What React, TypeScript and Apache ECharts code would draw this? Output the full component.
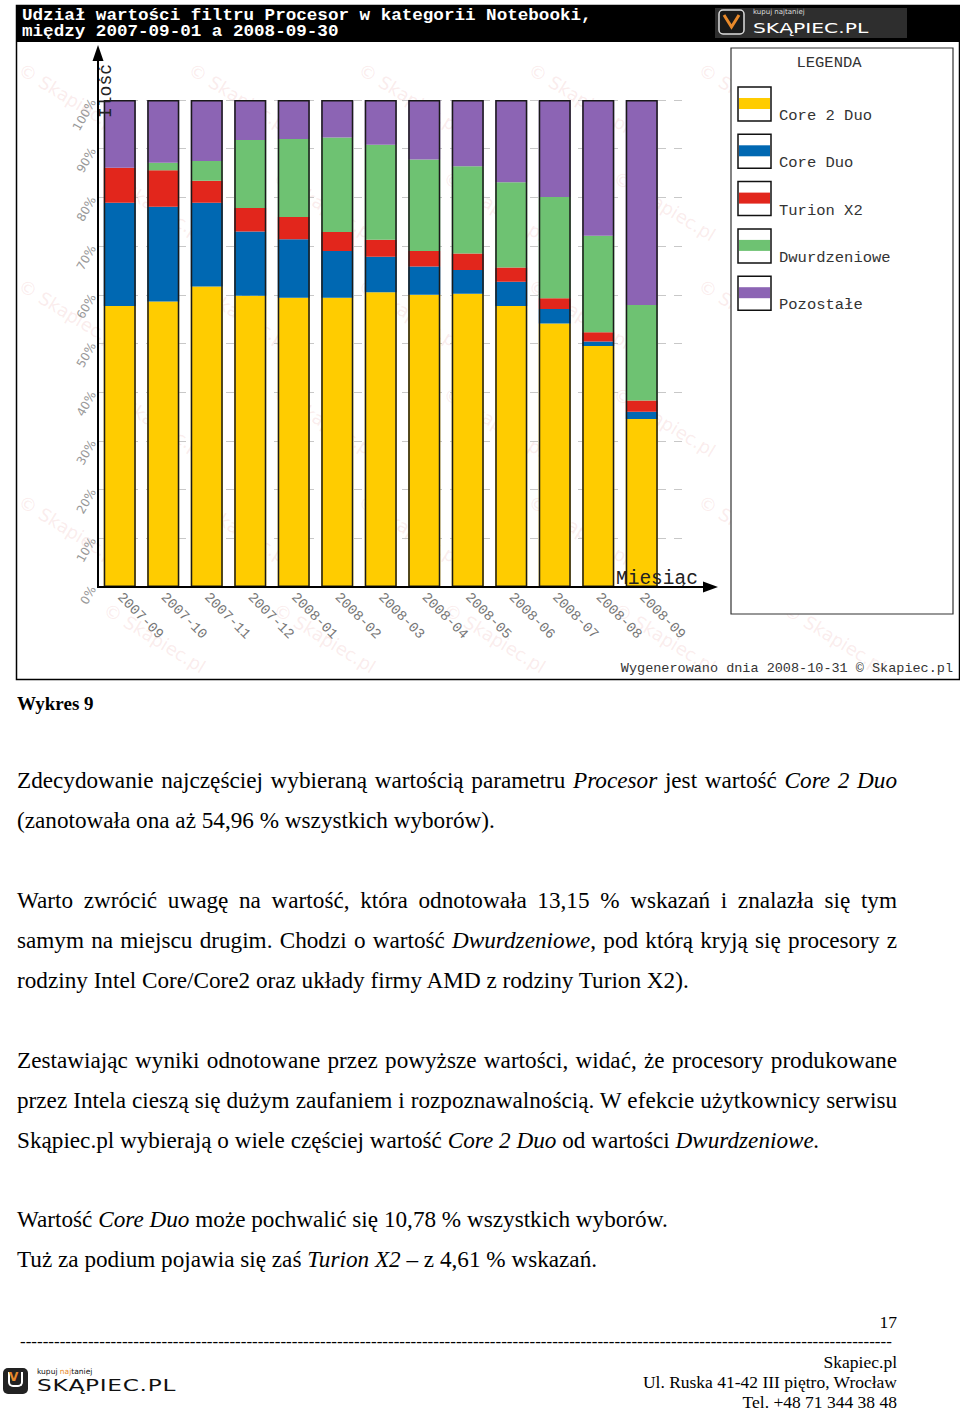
import React, { useEffect, useRef } from "react";
import * as echarts from "echarts";

// ---------- DATA ----------
const MONTHS = [
  "2007-09", "2007-10", "2007-11", "2007-12", "2008-01", "2008-02", "2008-03",
  "2008-04", "2008-05", "2008-06", "2008-07", "2008-08", "2008-09",
];
const SERIES_NAMES = ["Core 2 Duo", "Core Duo", "Turion X2", "Dwurdzeniowe", "Pozostałe"];
const SERIES_COLORS = ["#FFCC00", "#0068B2", "#E2261C", "#6EC272", "#8C64B4"];
const CORE_2_DUO = [57.7, 58.6, 61.7, 59.8, 59.4, 59.4, 60.5, 60.0, 60.2, 57.7, 54.1, 49.5, 34.5];
const CORE_DUO = [21.2, 19.5, 17.2, 13.2, 12.0, 9.6, 7.3, 5.8, 4.9, 5.0, 3.0, 0.9, 1.5];
const TURION_X2 = [7.2, 7.5, 4.5, 4.8, 4.6, 3.9, 3.5, 3.2, 3.4, 2.9, 2.2, 1.9, 2.3];
const DWURDZENIOWE = [0, 1.5, 4.1, 14.0, 16.0, 19.4, 19.5, 18.8, 17.9, 17.5, 20.8, 19.8, 19.6];
const POZOSTALE = [13.9, 12.9, 12.5, 8.2, 8.0, 7.7, 9.2, 12.2, 13.6, 16.9, 19.9, 27.9, 42.1];
const SERIES_VALUES = [CORE_2_DUO, CORE_DUO, TURION_X2, DWURDZENIOWE, POZOSTALE];
const Y_MIN = 0;
const Y_MAX = 100;
const Y_STEP = 10;

const TITLE_LINES = [
  "Udział wartości filtru Procesor w kategorii Notebooki,",
  "między 2007-09-01 a 2008-09-30",
];
const X_AXIS_NAME = "Miesiąc";
const Y_AXIS_NAME = "Ilość";
const LEGEND_TITLE = "LEGENDA";
const FOOTNOTE = "Wygenerowano dnia 2008-10-31 © Skapiec.pl";

const MONO = "'Liberation Mono', 'DejaVu Sans Mono', monospace";
const SERIF = "'Liberation Serif', 'Times New Roman', serif";

function txt(x: number, y: number, text: string, o: any = {}) {
  const { align = "left", vAlign = "middle", fill = "#333", font = MONO, size = 14, weight = "normal", lineHeight, ...rest } = o;
  const style: any = {
    text,
    fill,
    fontFamily: font,
    fontSize: size,
    fontWeight: weight,
    align,
    verticalAlign: vAlign,
    textAlign: align,
    textVerticalAlign: vAlign,
  };
  if (lineHeight) style.lineHeight = lineHeight;
  return { type: "text", x, y, silent: true, z: 10, ...rest, style };
}

function Chart() {
  const ref = useRef<HTMLDivElement>(null);
  useEffect(() => {
    if (!ref.current) return;
    const chart = echarts.init(ref.current, undefined, { renderer: "svg" });
    const totals = MONTHS.map((_, i) => SERIES_VALUES.reduce((s, arr) => s + arr[i], 0));

    const graphic: any[] = [];
    // faint watermarks (decoration)
    for (let r = 0; r < 6; r++) {
      for (let c = 0; c < 5; c++) {
        graphic.push({
          type: "text",
          x: 25 + c * 170 + (r % 2) * 85,
          y: 60 + r * 108,
          rotation: -0.55,
          silent: true,
          z: 0,
          style: {
            text: "© Skapiec.pl",
            fill: "rgba(225,140,140,0.17)",
            fontFamily: "'DejaVu Sans'",
            fontSize: 18,
          },
        });
      }
    }
    // header bar
    graphic.push({ type: "rect", shape: { x: 16, y: 5, width: 944, height: 37 }, style: { fill: "#000" }, z: 9, silent: true });
    TITLE_LINES.forEach((line, i) => {
      graphic.push({
        ...txt(22, 15.5 + i * 16, line, { fill: "#fff", size: 16, weight: "bold", lineHeight: 16 }),
        scaleX: 1.1,
        originX: 0,
        originY: 0,
      });
    });
    // header logo
    graphic.push({ type: "rect", shape: { x: 715, y: 8, width: 192, height: 30 }, style: { fill: "#2e2e2e" }, z: 10, silent: true });
    graphic.push({ type: "rect", shape: { x: 719, y: 10, width: 25, height: 24, r: 4 }, style: { fill: "#1a1a1a", stroke: "#ddd", lineWidth: 1.5 }, z: 11, silent: true });
    graphic.push({ type: "polyline", shape: { points: [[724, 15], [731.5, 27], [739, 15]] }, style: { stroke: "#E8892A", lineWidth: 3, fill: "none" }, z: 12, silent: true });
    graphic.push(txt(753, 12, "kupuj najtaniej", { fill: "#ddd", size: 7, font: "'DejaVu Sans'" }));
    graphic.push({
      ...txt(753, 28, "SKĄPIEC.PL", { fill: "#fff", size: 14, font: "'DejaVu Sans'" }),
      scaleX: 1.45,
      originX: 0,
      originY: 0,
      z: 12,
    });
    // outer frame
    graphic.push({ type: "rect", shape: { x: 16.5, y: 5.5, width: 943, height: 674 }, style: { fill: "none", stroke: "#000", lineWidth: 1.5 }, z: 12, silent: true });
    // axes lines with arrows
    graphic.push({ type: "line", shape: { x1: 98, y1: 587, x2: 98, y2: 56 }, style: { stroke: "#000", lineWidth: 2 }, z: 12, silent: true });
    graphic.push({ type: "polygon", shape: { points: [[92.5, 61], [103.5, 61], [98, 45]] }, style: { fill: "#000" }, z: 12, silent: true });
    graphic.push({ type: "line", shape: { x1: 97, y1: 587, x2: 707, y2: 587 }, style: { stroke: "#000", lineWidth: 2 }, z: 12, silent: true });
    graphic.push({ type: "polygon", shape: { points: [[703, 581.5], [703, 592.5], [718, 587]] }, style: { fill: "#000" }, z: 12, silent: true });
    graphic.push(txt(616, 579, X_AXIS_NAME, { size: 19.5, fill: "#222" }));
    graphic.push({ ...txt(106, 118, Y_AXIS_NAME, { size: 18, fill: "#222" }), rotation: Math.PI / 2 });
    // legend
    graphic.push({ type: "rect", shape: { x: 731, y: 48, width: 222, height: 566 }, style: { fill: "#fff", stroke: "#333", lineWidth: 1.2 }, z: 9, silent: true });
    graphic.push(txt(829, 63, LEGEND_TITLE, { align: "center", size: 15.5, fill: "#333" }));
    SERIES_NAMES.forEach((name, i) => {
      const y0 = 87 + i * 47.3;
      graphic.push({ type: "rect", shape: { x: 738, y: y0, width: 33, height: 34 }, style: { fill: "#fff", stroke: "#111", lineWidth: 1.5 }, z: 10, silent: true });
      graphic.push({ type: "rect", shape: { x: 739, y: y0 + 11, width: 31, height: 11 }, style: { fill: SERIES_COLORS[i] }, z: 11, silent: true });
      graphic.push(txt(779, y0 + 29, name, { size: 15.5, fill: "#333" }));
    });
    // footnote
    graphic.push(txt(953, 668, FOOTNOTE, { align: "right", size: 13.5, fill: "#333" }));

    const barSeries: any[] = SERIES_NAMES.map((name, i) => ({
      name,
      type: "bar",
      stack: "total",
      xAxisIndex: 0,
      yAxisIndex: 0,
      barWidth: 32,
      barGap: "-100%",
      data: SERIES_VALUES[i],
      itemStyle: { color: SERIES_COLORS[i] },
      z: 3,
    }));
    barSeries.push({
      name: "outline",
      type: "bar",
      xAxisIndex: 0,
      yAxisIndex: 0,
      barWidth: 32,
      barGap: "-100%",
      data: totals,
      itemStyle: { color: "rgba(0,0,0,0)", borderColor: "#1a1a1a", borderWidth: 1.5 },
      z: 4,
      silent: true,
    });

    chart.setOption({
      animation: false,
      backgroundColor: "#fff",
      grid: [
        { left: 98, right: 296.5, top: 100, bottom: 103 },
        { left: 98, right: 275, top: 100, bottom: 103 },
      ],
      xAxis: [
        {
          type: "category",
          gridIndex: 0,
          data: MONTHS,
          axisLine: { show: false },
          axisTick: { show: false },
          axisLabel: {
            rotate: -45,
            margin: 8,
            color: "#777",
            fontFamily: MONO,
            fontSize: 14,
            interval: 0,
          },
        },
        { type: "value", gridIndex: 1, show: false, min: 0, max: 1 },
      ],
      yAxis: [
        { type: "value", gridIndex: 0, min: Y_MIN, max: Y_MAX, show: false },
        {
          type: "value",
          gridIndex: 1,
          min: Y_MIN,
          max: Y_MAX,
          interval: Y_STEP,
          axisLine: { show: false },
          axisTick: { show: false },
          axisLabel: {
            rotate: 60,
            margin: 5,
            color: "#999",
            fontFamily: "'DejaVu Sans'",
            fontSize: 12,
            formatter: "{value}%",
          },
          splitLine: { lineStyle: { color: "#c8c8c8", type: [8, 8], width: 1 } },
        },
      ],
      graphic,
      series: barSeries,
    });
    return () => chart.dispose();
  }, []);
  return <div ref={ref} style={{ position: "absolute", left: 0, top: 0, width: 960, height: 690 }} />;
}

const para: React.CSSProperties = {
  position: "absolute",
  left: 17,
  width: 880,
  height: 40,
  lineHeight: "40px",
  fontSize: 23.2,
  fontFamily: SERIF,
  color: "#000",
};
const J = (top: number): React.CSSProperties => ({ ...para, top: top - 20, textAlign: "justify", textAlignLast: "justify" } as any);
const L = (top: number): React.CSSProperties => ({ ...para, top: top - 20, textAlign: "left", whiteSpace: "nowrap" });

export default function App() {
  const foot: React.CSSProperties = {
    position: "absolute",
    right: 63,
    fontFamily: SERIF,
    fontSize: 17.5,
    lineHeight: "20px",
    height: 20,
    textAlign: "right",
    whiteSpace: "nowrap",
  };
  return (
    <div style={{ position: "absolute", left: 0, top: 0, width: 960, height: 1411, background: "#fff", overflow: "hidden" }}>
      <Chart />
      <div style={{ position: "absolute", left: 17, top: 693, fontFamily: SERIF, fontSize: 19, fontWeight: "bold", lineHeight: "22px" }}>Wykres 9</div>

      <div style={J(780)}>Zdecydowanie najczęściej wybieraną wartością parametru <i>Procesor</i> jest wartość <i>Core 2 Duo</i></div>
      <div style={L(820)}>(zanotowała ona aż 54,96 % wszystkich wyborów).</div>

      <div style={J(900)}>Warto zwrócić uwagę na wartość, która odnotowała 13,15 % wskazań i znalazła się tym</div>
      <div style={J(940)}>samym na miejscu drugim. Chodzi o wartość <i>Dwurdzeniowe</i>, pod którą kryją się procesory z</div>
      <div style={L(980)}>rodziny Intel Core/Core2 oraz układy firmy AMD z rodziny Turion X2).</div>

      <div style={J(1060)}>Zestawiając wyniki odnotowane przez powyższe wartości, widać, że procesory produkowane</div>
      <div style={J(1100)}>przez Intela cieszą się dużym zaufaniem i rozpoznawalnością. W efekcie użytkownicy serwisu</div>
      <div style={L(1140)}>Skąpiec.pl wybierają o wiele częściej wartość <i>Core 2 Duo</i> od wartości <i>Dwurdzeniowe.</i></div>

      <div style={L(1219)}>Wartość <i>Core Duo</i> może pochwalić się 10,78 % wszystkich wyborów.</div>
      <div style={L(1259)}>Tuż za podium pojawia się zaś <i>Turion X2</i> – z 4,61 % wskazań.</div>

      <div style={{ ...foot, top: 1312 }}>17</div>
      <div style={{ position: "absolute", left: 20, top: 1332, height: 20, whiteSpace: "nowrap", fontFamily: SERIF, fontSize: 17, lineHeight: "20px" }}>
        {"-".repeat(154)}
      </div>
      <div style={{ ...foot, top: 1352 }}>Skapiec.pl</div>
      <div style={{ ...foot, top: 1372 }}>Ul. Ruska 41-42 III piętro, Wrocław</div>
      <div style={{ ...foot, top: 1392 }}>Tel. +48 71 344 38 48</div>

      <div style={{ position: "absolute", left: 3, top: 1368, width: 25, height: 26, borderRadius: 5, background: "#222" }}>
        <div style={{ position: "absolute", left: 5, top: 4, width: 15, height: 15, border: "2px solid #fff", borderTop: "none", borderRadius: "0 0 5px 5px", boxSizing: "border-box" }} />
        <div style={{ position: "absolute", left: 6, top: 3, color: "#E8892A", fontFamily: "'DejaVu Sans'", fontSize: 12, fontWeight: "bold", lineHeight: "12px" }}>V</div>
      </div>
      <div style={{ position: "absolute", left: 37, top: 1367, fontFamily: "'DejaVu Sans'", fontSize: 7.5, lineHeight: "9px", color: "#111" }}>
        kupuj <span style={{ color: "#E8892A" }}>naj</span>taniej
      </div>
      <div style={{ position: "absolute", left: 37, top: 1377, fontFamily: "'DejaVu Sans'", fontSize: 16, lineHeight: "18px", color: "#111", transform: "scaleX(1.45)", transformOrigin: "left top", letterSpacing: 0.5 }}>
        SKĄPIEC.PL
      </div>
    </div>
  );
}
